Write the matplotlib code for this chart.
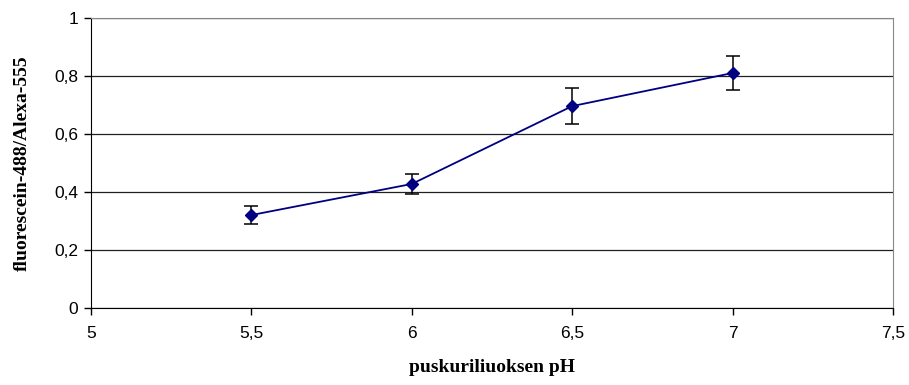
import matplotlib
matplotlib.use("Agg")
import matplotlib.pyplot as plt
from matplotlib.ticker import FuncFormatter

# pH values and measured ratio (fluorescein-488 / Alexa-555) with error
ph = [5.5, 6.0, 6.5, 7.0]
ratio = [0.32, 0.427, 0.695, 0.809]
err = [0.03, 0.035, 0.063, 0.057]

x_ticks = [5, 5.5, 6, 6.5, 7, 7.5]
y_ticks = [0, 0.2, 0.4, 0.6, 0.8, 1]

fig = plt.figure(figsize=(9.09, 3.85), dpi=100)
ax = fig.add_axes([0.1001, 0.2, 0.8823, 0.7545])

# horizontal grid lines like the Excel original
ax.yaxis.grid(True, color="#202020", linewidth=0.9)
ax.set_axisbelow(True)

ax.errorbar(ph, ratio, yerr=err, color="#000080", linewidth=1.3,
            marker="D", markersize=6, ecolor="black", elinewidth=1.1,
            capsize=5, capthick=1.1, zorder=3)

ax.set_xlim(5, 7.5)
ax.set_ylim(0, 1)
ax.set_xticks(x_ticks)
ax.set_yticks(y_ticks)

comma = FuncFormatter(lambda v, p: ("%g" % v).replace(".", ","))
ax.xaxis.set_major_formatter(comma)
ax.yaxis.set_major_formatter(comma)

for lab in ax.get_xticklabels() + ax.get_yticklabels():
    lab.set_family("Liberation Sans")
    lab.set_fontsize(12.5)

ax.tick_params(axis="both", direction="out", length=5, width=1, color="black")
ax.tick_params(axis="x", pad=8)
ax.tick_params(axis="y", pad=4)

ax.spines["left"].set_color("black")
ax.spines["bottom"].set_color("black")
ax.spines["top"].set_color("#888888")
ax.spines["right"].set_color("#888888")

ax.set_xlabel("puskuriliuoksen pH", family="Liberation Serif",
              fontweight="bold", fontsize=14, labelpad=13)
ax.set_ylabel("fluorescein-488/Alexa-555", family="Liberation Serif",
              fontweight="bold", fontsize=14, labelpad=17)

fig.savefig("out.png", dpi=100)
